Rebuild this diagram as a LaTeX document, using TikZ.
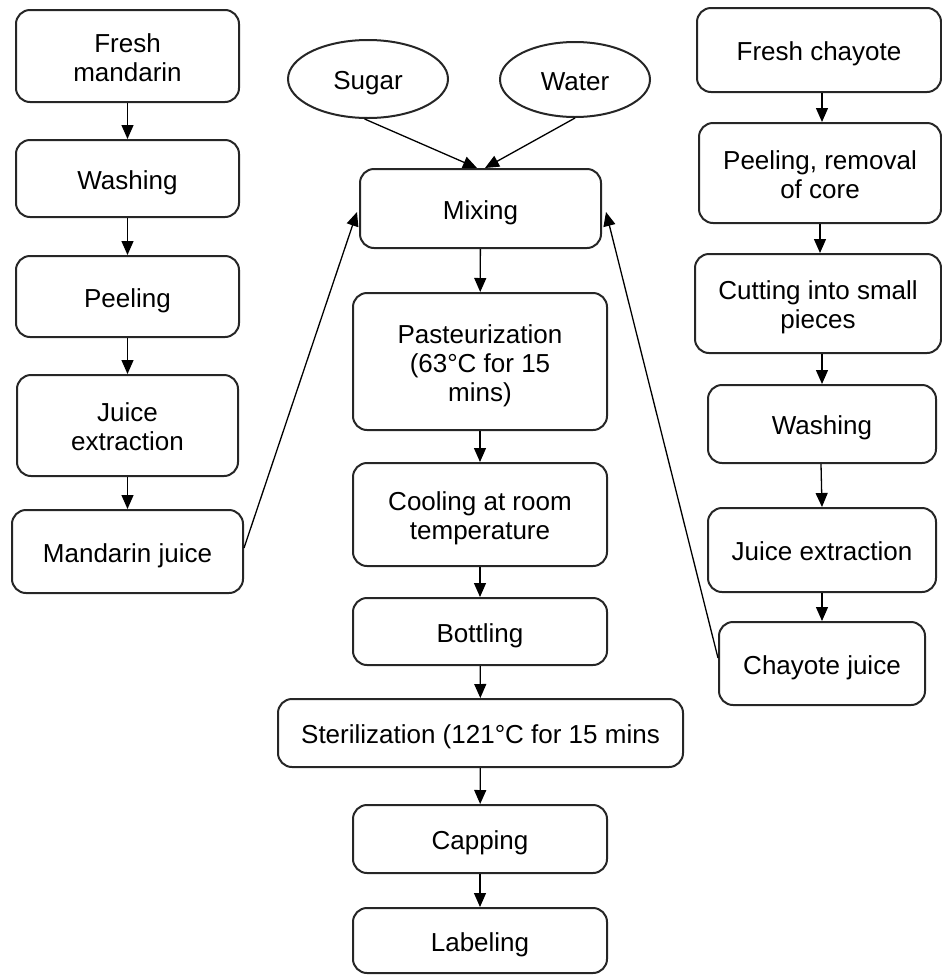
\documentclass[tikz,border=0pt]{standalone}
\usepackage{fontspec}
\setmainfont{Liberation Sans}
\usetikzlibrary{arrows.meta,shapes.geometric,calc}
\newcommand\tstr{\rule{0pt}{27.6pt}}
\newcommand\bstr{\rule[-6pt]{0pt}{6pt}}
\tikzset{
  box/.style={draw=black!85, line width=2pt, rounded corners=14pt, align=center, inner sep=2pt,
    font=\fontsize{26}{29}\selectfont, text=black},
  oval/.style={draw=black!85, line width=2pt, ellipse, inner sep=0pt,
    font=\fontsize{26}{29}\selectfont, text=black},
  conn/.style={draw=black, line width=1.3pt, -{Triangle[length=14pt,width=12pt]}},
}
\begin{document}
\begin{tikzpicture}[x=1pt,y=-1pt]
\useasboundingbox (0,0) rectangle (942,975);
% left column
\node[box, minimum width=223pt, minimum height=92pt] (fm) at (127.5,56) {\tstr Fresh\\mandarin\bstr};
\node[box, minimum width=223pt, minimum height=77pt] (w1) at (127.5,178.5) {\tstr Washing\bstr};
\node[box, minimum width=223pt, minimum height=81pt] (p1) at (127.5,296.5) {\tstr Peeling\bstr};
\node[box, minimum width=221pt, minimum height=101pt] (je1) at (127.5,425.5) {\tstr Juice\\extraction\bstr};
\node[box, minimum width=231pt, minimum height=83pt] (mj) at (127.5,551.5) {\tstr Mandarin juice\bstr};
% middle column
\node[oval, minimum width=160pt, minimum height=78pt] (sugar) at (368,79) {\tstr Sugar\bstr};
\node[oval, minimum width=150pt, minimum height=75pt] (water) at (575,79.5) {\tstr Water\bstr};
\node[box, minimum width=241pt, minimum height=79pt] (mix) at (480.5,208.5) {\tstr Mixing\bstr};
\node[box, minimum width=254pt, minimum height=137pt] (past) at (480,361.5) {\tstr Pasteurization\\(63°C for 15\\mins)\bstr};
\node[box, minimum width=254pt, minimum height=103pt] (cool) at (480,514.5) {\tstr Cooling at room\\temperature\bstr};
\node[box, minimum width=254pt, minimum height=67pt] (bott) at (480,631.5) {\tstr Bottling\bstr};
\node[box, minimum width=405pt, minimum height=68pt] (ster) at (480.5,733) {\tstr Sterilization (121°C for 15 mins\bstr};
\node[box, minimum width=254pt, minimum height=68pt] (capn) at (480,839) {\tstr Capping\bstr};
\node[box, minimum width=254pt, minimum height=65pt] (lab) at (480,940.5) {\tstr Labeling\bstr};
% right column
\node[box, minimum width=244pt, minimum height=84pt] (fc) at (819,50) {\tstr Fresh chayote\bstr};
\node[box, minimum width=242pt, minimum height=100pt] (pc) at (820,173) {\tstr Peeling, removal\\of core\bstr};
\node[box, minimum width=246pt, minimum height=99pt] (cut) at (818,303.5) {\tstr Cutting into small\\pieces\bstr};
\node[box, minimum width=228pt, minimum height=78pt] (w2) at (822,424) {\tstr Washing\bstr};
\node[box, minimum width=228pt, minimum height=84pt] (je2) at (822,550) {\tstr Juice extraction\bstr};
\node[box, minimum width=206pt, minimum height=83pt] (cj) at (822,663.5) {\tstr Chayote juice\bstr};
% left arrows
\draw[conn] (fm) -- (w1);
\draw[conn] (w1) -- (p1);
\draw[conn] (p1) -- (je1);
\draw[conn] (je1) -- (mj);
% middle arrows
\draw[conn] (mix) -- (past);
\draw[conn] (past) -- (cool);
\draw[conn] (cool) -- (bott);
\draw[conn] (bott) -- (ster);
\draw[conn] (ster) -- (capn);
\draw[conn] (capn) -- (lab);
% right arrows
\draw[conn] (fc.south -| pc.south) ++(2,0) -- ([xshift=2pt]pc.north);
\draw[conn] (pc) -- (pc |- cut.north);
\draw[conn] (cut.south -| w2.north) -- (w2.north);
\draw[conn] ([xshift=-1pt]w2.south) -- (je2.north);
\draw[conn] (je2) -- (cj);
% inputs to mixing
\draw[conn] (sugar.-95) -- ([xshift=-3.5pt]mix.north);
\draw[conn] (water.-90) -- ([xshift=4.5pt]mix.north);
\draw[conn] ([yshift=3.5pt]mj.east) -- ([xshift=-2pt,yshift=-3.5pt]mix.west);
\draw[conn] ([yshift=5.5pt]cj.west) -- ([xshift=4pt,yshift=-3.5pt]mix.east);
\end{tikzpicture}
\end{document}
